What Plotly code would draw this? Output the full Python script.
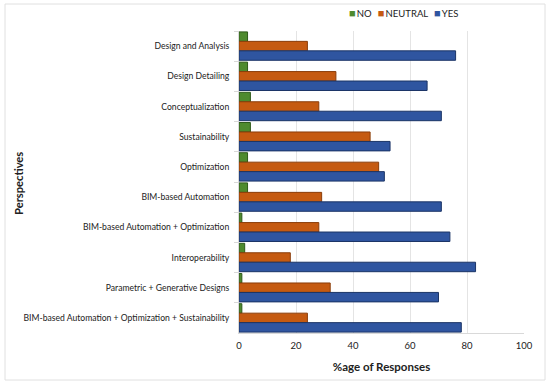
import plotly.graph_objects as go

categories = [
    "Design and Analysis",
    "Design Detailing",
    "Conceptualization",
    "Sustainability",
    "Optimization",
    "BIM-based Automation",
    "BIM-based Automation + Optimization",
    "Interoperability",
    "Parametric + Generative Designs",
    "BIM-based Automation + Optimization + Sustainability",
]
no_vals = [3, 3, 4, 4, 3, 3, 1, 2, 1, 1]
neutral_vals = [24, 34, 28, 46, 49, 29, 28, 18, 32, 24]
yes_vals = [76, 66, 71, 53, 51, 71, 74, 83, 70, 78]
x_ticks = [0, 20, 40, 60, 80, 100]

series = [
    ("NO", no_vals, "#4E8A2E", "#2E5A1A"),
    ("NEUTRAL", neutral_vals, "#C55A11", "#8A3D0A"),
    ("YES", yes_vals, "#2F55A0", "#1B3466"),
]

FONT = "Lato, sans-serif"

fig = go.Figure()
for name, vals, col, edge in series:
    fig.add_trace(go.Bar(name=name, y=categories, x=vals, orientation="h",
                         showlegend=False,
                         marker=dict(color=col, line=dict(color=edge, width=1))))

legend_text = "&nbsp;&nbsp;&#8201;".join(
    f'<span style="color:{col};font-size:11px">■</span>&#8201;{name}' for name, _, col, _ in series
)

fig.update_layout(
    width=550, height=384,
    barmode="group", bargap=0.06, bargroupgap=0,
    plot_bgcolor="white", paper_bgcolor="white",
    margin=dict(l=239, r=26, t=31, b=51, autoexpand=False),
    font=dict(family=FONT, size=10, color="#222222"),
    showlegend=False,
    xaxis=dict(range=[0, 100], tickvals=x_ticks, showgrid=True, gridcolor="#E4E4E4",
               gridwidth=1, zeroline=False, showline=True, linecolor="#D9D9D9",
               ticks="", tickfont=dict(size=9.5), ticklabelstandoff=4, automargin=True,
               title=dict(text="<b>%age of Responses</b>", font=dict(size=11.5), standoff=12)),
    yaxis=dict(autorange="reversed", showline=True, linecolor="#D9D9D9",
               ticks="outside", tickson="boundaries", ticklen=4, tickcolor="#D9D9D9",
               tickfont=dict(size=8.6), ticklabelstandoff=7, automargin=False),
    annotations=[
        dict(xref="paper", yref="paper", x=(403 - 239) / 285, y=(333 - 12.5) / 302,
             xanchor="center", yanchor="middle", showarrow=False,
             text=legend_text, font=dict(size=9.5, color="#222222")),
        dict(xref="paper", yref="paper", x=(18 - 239) / 285, y=(333 - 184) / 302,
             xanchor="center", yanchor="middle", showarrow=False, textangle=-90,
             text="<b>Perspectives</b>", font=dict(size=11.2, color="#222222")),
    ],
    shapes=[dict(type="rect", xref="paper", yref="paper",
                 x0=-234 / 285, x1=(545 - 239) / 285, y0=-(380 - 333) / 302, y1=(333 - 4) / 302,
                 line=dict(color="#E0E0E0", width=1), layer="below")],
)

fig.write_html("out.html", config={"displayModeBar": False},
               post_script="document.body.style.margin='0';")
